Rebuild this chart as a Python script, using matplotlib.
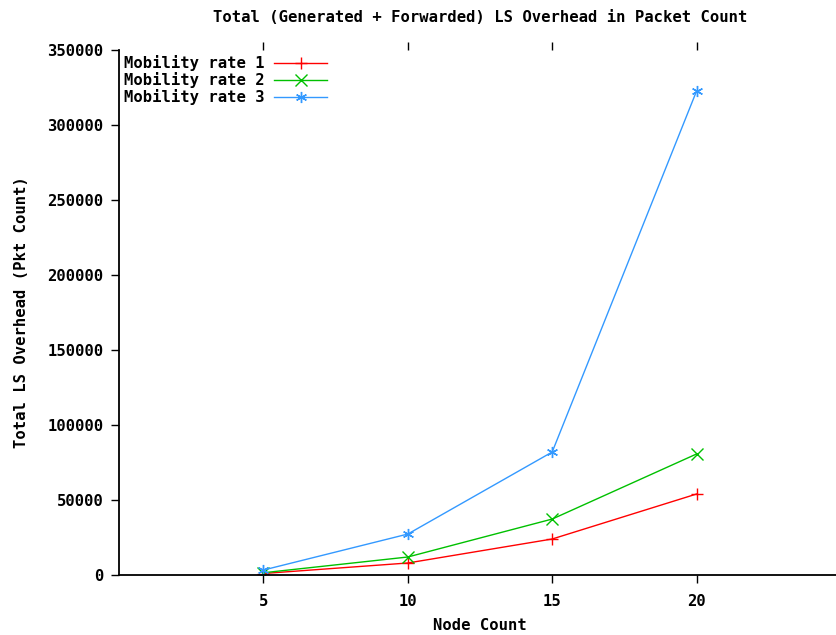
import matplotlib.pyplot as plt

# data
node_count = [5, 10, 15, 20]
rate1 = [1000, 8000, 24000, 54000]
rate2 = [1500, 12000, 37300, 80700]
rate3 = [3300, 27300, 82000, 322700]
labels = ['Mobility rate 1', 'Mobility rate 2', 'Mobility rate 3']
colors = ['#ff0000', '#00c000', '#3399ff']
yticks = [0, 50000, 100000, 150000, 200000, 250000, 300000, 350000]

plt.rcParams['font.family'] = 'DejaVu Sans Mono'
plt.rcParams['font.weight'] = 'bold'
plt.rcParams['font.size'] = 11.2

fig = plt.figure(figsize=(8.37, 6.35), dpi=100)
ax = fig.add_axes([119 / 837, 60 / 635, 722 / 837, 525 / 635])

asterisk = (6, 2, 0)
markers = ['+', 'x', asterisk]
for ys, lab, c, m in zip([rate1, rate2, rate3], labels, colors, markers):
    ax.plot(node_count, ys, color=c, lw=1.0, marker=m, ms=8, mew=1.0, label=lab)

ax.set_xlim(0, 25)
ax.set_ylim(0, 350000)
ax.set_xticks(node_count)
ax.set_yticks(yticks)
ax.spines['top'].set_visible(False)
ax.spines['right'].set_visible(False)
ax.spines['left'].set_linewidth(1.3)
ax.spines['bottom'].set_linewidth(1.3)
ax.tick_params(direction='out', length=6, width=1, top=True)
ax.tick_params(axis='x', pad=8)
ax.tick_params(axis='y', pad=5)

fig.text(480 / 837, 1 - 18 / 635, 'Total (Generated + Forwarded) LS Overhead in Packet Count',
         ha='center', va='center')
fig.text(480 / 837, 1 - 625 / 635, 'Node Count', ha='center', va='center')
fig.text(22 / 837, 1 - 312 / 635, 'Total LS Overhead (Pkt Count)', ha='center', va='center',
         rotation=90)

ax.legend(loc='upper left', frameon=False, markerfirst=False, handlelength=3.4,
          handletextpad=0.6, labelspacing=0.05, borderaxespad=0.15, borderpad=0.2)

fig.savefig('out.png', dpi=100)
